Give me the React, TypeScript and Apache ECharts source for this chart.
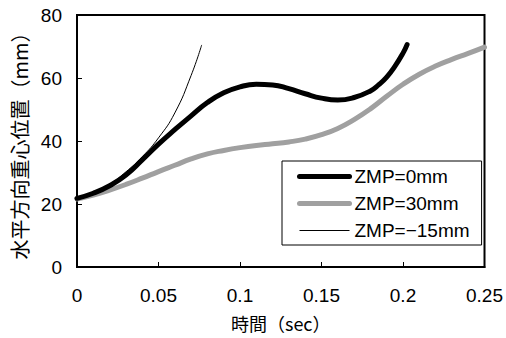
import React, { useEffect, useRef } from "react";
import * as echarts from "echarts";

const zmp0T = [0, 0.01, 0.02, 0.03, 0.04, 0.05, 0.06, 0.07, 0.08, 0.09, 0.1, 0.11, 0.12, 0.13, 0.14, 0.15, 0.16, 0.17, 0.18, 0.185, 0.19, 0.195, 0.2, 0.2025];
const zmp0V = [21.8, 23.4, 25.8, 29.2, 34.0, 39.0, 43.6, 48.0, 52.2, 55.3, 57.2, 58.0, 57.8, 56.6, 55.0, 53.6, 53.0, 53.8, 55.9, 57.8, 60.3, 63.7, 67.9, 70.6];

const zmp30T = [0, 0.01, 0.02, 0.03, 0.04, 0.05, 0.06, 0.07, 0.08, 0.09, 0.1, 0.11, 0.12, 0.13, 0.14, 0.15, 0.16, 0.17, 0.18, 0.19, 0.2, 0.21, 0.22, 0.23, 0.24, 0.25];
const zmp30V = [21.6, 22.8, 24.4, 26.2, 28.2, 30.3, 32.3, 34.3, 35.9, 37.0, 37.9, 38.6, 39.1, 39.7, 40.6, 42.0, 44.0, 46.8, 50.2, 54.2, 58.0, 61.2, 63.8, 65.9, 67.8, 69.8];

const zmpM15T = [0, 0.01, 0.02, 0.03, 0.04, 0.05, 0.06, 0.07, 0.0765];
const zmpM15V = [21.8, 23.5, 26.2, 30.2, 35.0, 41.0, 48.9, 60.8, 70.5];

const seriesNames = ["ZMP=0mm", "ZMP=30mm", "ZMP=\u221215mm"];
const xTitle = "時間（sec）";
const yTitle = "水平方向重心位置（mm）";

const pairs = (t: number[], v: number[]) => t.map((x, i) => [x, v[i]]);

const latin = "'Liberation Sans', Arial, sans-serif";
const cjk = "'Noto Sans CJK JP', sans-serif";

export default function App() {
  const ref = useRef<HTMLDivElement>(null);
  useEffect(() => {
    if (!ref.current) return;
    const chart = echarts.init(ref.current, undefined, { renderer: "svg" });
    chart.setOption({
      animation: false,
      backgroundColor: "#fff",
      grid: {
        left: 77,
        right: 17,
        top: 15,
        bottom: 71,
        show: true,
        borderColor: "#000",
        borderWidth: 2,
      },
      legend: {
        orient: "vertical",
        left: 282,
        top: 161,
        padding: [6, 12, 5, 15],
        borderColor: "#000",
        borderWidth: 1,
        backgroundColor: "#fff",
        itemWidth: 50,
        itemHeight: 14,
        itemGap: 8,
        itemStyle: { opacity: 0 },
        textStyle: { fontSize: 19, lineHeight: 19, fontFamily: latin, color: "#000" },
        data: [
          { name: seriesNames[0], itemStyle: { opacity: 0 }, lineStyle: { color: "#000", width: 5, cap: "round" } },
          { name: seriesNames[1], itemStyle: { opacity: 0 }, lineStyle: { color: "#a0a0a0", width: 5, cap: "round" } },
          { name: seriesNames[2], itemStyle: { opacity: 0 }, lineStyle: { color: "#000", width: 1 } },
        ],
      },
      xAxis: {
        type: "value",
        min: 0,
        max: 0.25,
        interval: 0.05,
        name: xTitle,
        nameLocation: "middle",
        nameGap: 47,
        nameTextStyle: { fontSize: 18, fontFamily: cjk, color: "#000" },
        axisLine: { show: true, lineStyle: { color: "#000", width: 2 } },
        axisTick: { show: true, inside: true, length: 5, lineStyle: { color: "#000", width: 1 } },
        axisLabel: { margin: 19, fontSize: 19, fontFamily: latin, color: "#000" },
        splitLine: { show: false },
      },
      yAxis: {
        type: "value",
        min: 0,
        max: 80,
        interval: 20,
        name: yTitle,
        nameLocation: "middle",
        nameGap: 47,
        nameRotate: 90,
        nameTextStyle: { fontSize: 20, fontFamily: cjk, color: "#000" },
        axisLine: { show: true, lineStyle: { color: "#000", width: 2 } },
        axisTick: { show: true, inside: true, length: 5, lineStyle: { color: "#000", width: 1 } },
        axisLabel: { margin: 15, fontSize: 19, fontFamily: latin, color: "#000" },
        splitLine: { show: false },
      },
      series: [
        {
          name: seriesNames[0],
          type: "line",
          data: pairs(zmp0T, zmp0V),
          smooth: 0.5,
          symbol: "none",
          z: 3,
          lineStyle: { color: "#000", width: 5, cap: "round" },
          itemStyle: { color: "#000" },
        },
        {
          name: seriesNames[1],
          type: "line",
          data: pairs(zmp30T, zmp30V),
          smooth: 0.5,
          symbol: "none",
          z: 2,
          lineStyle: { color: "#a0a0a0", width: 5, cap: "round" },
          itemStyle: { color: "#a0a0a0" },
        },
        {
          name: seriesNames[2],
          type: "line",
          data: pairs(zmpM15T, zmpM15V),
          smooth: 0.5,
          symbol: "none",
          z: 4,
          lineStyle: { color: "#000", width: 1 },
          itemStyle: { color: "#000" },
        },
      ],
    });
    return () => chart.dispose();
  }, []);
  return <div ref={ref} style={{ width: 506, height: 338, position: "absolute", left: 0, top: 0 }} />;
}
